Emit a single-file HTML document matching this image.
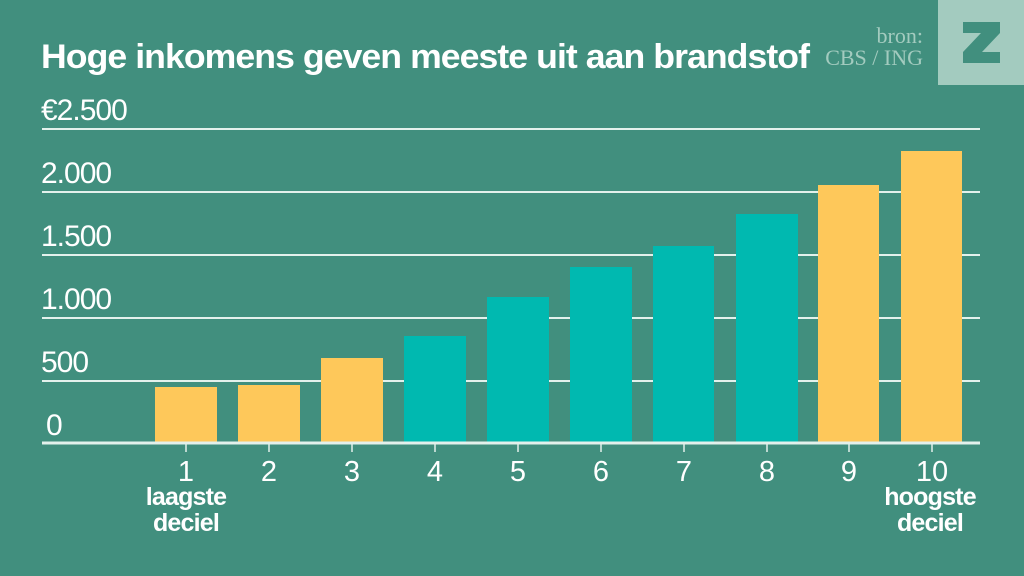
<!DOCTYPE html>
<html><head><meta charset="utf-8"><style>
html,body{margin:0;padding:0;background:#418f7e;}
svg{display:block}
text{font-family:"Liberation Sans",sans-serif;fill:#fff}
</style></head><body>
<svg width="1024" height="576" viewBox="0 0 1024 576">
<rect width="1024" height="576" fill="#418f7e"/>
<text x="41" y="68" font-size="34" font-weight="bold" letter-spacing="-0.9" textLength="768" lengthAdjust="spacingAndGlyphs">Hoge inkomens geven meeste uit aan brandstof</text>
<text x="923" y="43" font-size="22" text-anchor="end" style="fill:#a3cbbf;font-family:'Liberation Serif',serif">bron:</text>
<text x="923" y="65" font-size="22" text-anchor="end" style="fill:#a3cbbf;font-family:'Liberation Serif',serif">CBS / ING</text>
<rect x="938" y="0" width="86" height="85" fill="#a3cbbf"/>
<path d="M963 22 H1000 V33 L982 52 H1000 V63 H963 V52 L981 33 H963 Z" fill="#418f7e"/>
<g stroke="#e3f1ec" stroke-width="2">
<line x1="42" y1="129" x2="980" y2="129"/>
<line x1="42" y1="192" x2="980" y2="192"/>
<line x1="42" y1="255" x2="980" y2="255"/>
<line x1="42" y1="318" x2="980" y2="318"/>
<line x1="42" y1="381" x2="980" y2="381"/>
</g>
<g font-size="30" letter-spacing="-1">
<text x="41" y="120">€2.500</text>
<text x="41" y="183">2.000</text>
<text x="41" y="246">1.500</text>
<text x="41" y="309">1.000</text>
<text x="41" y="372">500</text>
<text x="46" y="435">0</text>
</g>
<g fill="#fec85a">
<rect x="155" y="387" width="62" height="56"/>
<rect x="238" y="385" width="62" height="58"/>
<rect x="321" y="358" width="62" height="85"/>
<rect x="818" y="185" width="61" height="258"/>
<rect x="901" y="151" width="61" height="292"/>
</g>
<g fill="#00b9b0">
<rect x="404" y="336" width="62" height="107"/>
<rect x="487" y="297" width="62" height="146"/>
<rect x="570" y="267" width="62" height="176"/>
<rect x="653" y="246" width="61" height="197"/>
<rect x="736" y="214" width="62" height="229"/>
</g>
<line x1="42" y1="443" x2="980" y2="443" stroke="#e3f1ec" stroke-width="3"/>
<g stroke="#e3f1ec" stroke-width="1.5">
<line x1="186" y1="444" x2="186" y2="452"/><line x1="269" y1="444" x2="269" y2="452"/>
<line x1="352" y1="444" x2="352" y2="452"/><line x1="435" y1="444" x2="435" y2="452"/>
<line x1="518" y1="444" x2="518" y2="452"/><line x1="601" y1="444" x2="601" y2="452"/>
<line x1="684" y1="444" x2="684" y2="452"/><line x1="767" y1="444" x2="767" y2="452"/>
<line x1="849" y1="444" x2="849" y2="452"/><line x1="932" y1="444" x2="932" y2="452"/>
</g>
<g font-size="29" text-anchor="middle">
<text x="186" y="481">1</text><text x="269" y="481">2</text><text x="352" y="481">3</text>
<text x="435" y="481">4</text><text x="518" y="481">5</text><text x="601" y="481">6</text>
<text x="684" y="481">7</text><text x="767" y="481">8</text><text x="849" y="481">9</text>
<text x="932" y="481">10</text>
</g>
<g font-size="25" font-weight="bold" text-anchor="middle" letter-spacing="-0.8">
<text x="186" y="505">laagste</text><text x="186" y="531">deciel</text>
<text x="930" y="505">hoogste</text><text x="930" y="531">deciel</text>
</g>
</svg>
</body></html>
